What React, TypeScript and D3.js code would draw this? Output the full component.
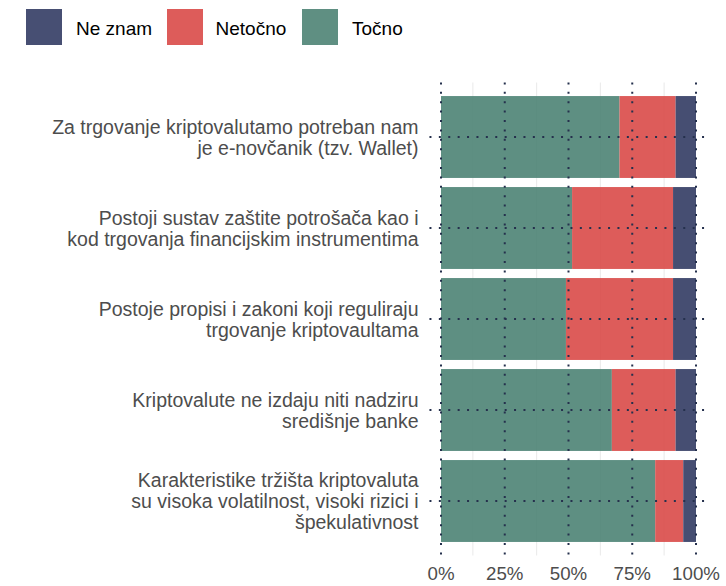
import React from "react";
import * as d3 from "d3";

const categories: string[][] = [
  ["Za trgovanje kriptovalutamo potreban nam", "je e-novčanik (tzv. Wallet)"],
  ["Postoji sustav zaštite potrošača kao i", "kod trgovanja financijskim instrumentima"],
  ["Postoje propisi i zakoni koji reguliraju", "trgovanje kriptovaultama"],
  ["Kriptovalute ne izdaju niti nadziru", "središnje banke"],
  ["Karakteristike tržišta kriptovaluta", "su visoka volatilnost, visoki rizici i", "špekulativnost"],
];
const tocno = [70, 51.4, 49, 67, 84];
const netocno = [22, 39.6, 42, 25, 11];
const neZnam = [8, 9, 9, 8, 5];
const seriesNames = ["Točno", "Netočno", "Ne znam"];
const legendOrder = ["Ne znam", "Netočno", "Točno"];
const xTicks = [0, 25, 50, 75, 100];
const minorTicks = [12.5, 37.5, 62.5, 87.5];

const colors: Record<string, string> = {
  "Točno": "#4d8374",
  "Netočno": "#d94a48",
  "Ne znam": "#323b63",
};
const legendColors: Record<string, string> = {
  "Ne znam": "#474f73",
  "Netočno": "#dd5c5a",
  "Točno": "#5f8f82",
};

const W = 726;
const H = 586;
const FONT = "'Liberation Sans', Arial, sans-serif";

export default function App() {
  const x = d3.scaleLinear().domain([0, 100]).range([441, 696]);
  const panelX: [number, number] = [428.25, 708.75];
  const panelY: [number, number] = [82.4, 555.6];
  const keys = categories.map((_, i) => String(i));
  const y = d3
    .scaleBand<string>()
    .domain(keys)
    .range([91.5, 546.5])
    .paddingInner(0.1)
    .paddingOuter(0.05);

  const rows = keys.map((k, i) => ({
    key: k,
    "Točno": tocno[i],
    "Netočno": netocno[i],
    "Ne znam": neZnam[i],
  }));
  const stack = d3.stack<any>().keys(seriesNames);
  const stacked = stack(rows);

  const dotColor = "#25304d";
  const dash = "2 7.4";
  const lineH = 21;
  const fs = 19;
  const yfs = 19.5;

  return (
    <svg
      width={W}
      height={H}
      style={{ position: "absolute", left: 0, top: 0, background: "#fff" }}
      fontFamily={FONT}
    >
      {/* legend */}
      {legendOrder.map((name, i) => {
        const lx = [26, 167, 302][i];
        const tx = [76, 215.5, 352][i];
        return (
          <g key={name}>
            <rect x={lx} y={9} width={36} height={36} fill={legendColors[name]} />
            <text x={tx} y={34.5} fontSize={fs} fill="#000">
              {name}
            </text>
          </g>
        );
      })}

      {/* minor grid */}
      {minorTicks.map((t) => (
        <line
          key={"m" + t}
          x1={x(t)}
          x2={x(t)}
          y1={panelY[0]}
          y2={panelY[1]}
          stroke="#ebebeb"
          strokeWidth={1.1}
        />
      ))}

      {/* bars */}
      {stacked.map((s) => (
        <g key={s.key} fill={colors[s.key]} fillOpacity={0.9}>
          {s.map((d: any) => (
            <rect
              key={d.data.key}
              x={x(d[0])}
              y={y(d.data.key)}
              width={x(d[1]) - x(d[0])}
              height={y.bandwidth()}
            />
          ))}
        </g>
      ))}

      {/* major dotted grid */}
      {xTicks.map((t) => (
        <line
          key={"v" + t}
          x1={x(t)}
          x2={x(t)}
          y1={panelY[0]}
          y2={panelY[1]}
          stroke={dotColor}
          strokeWidth={2}
          strokeDasharray={dash}
        />
      ))}
      {keys.map((k) => {
        const cy = (y(k) as number) + y.bandwidth() / 2;
        return (
          <line
            key={"h" + k}
            x1={panelX[0] + 1.2}
            x2={panelX[1]}
            y1={cy}
            y2={cy}
            stroke={dotColor}
            strokeWidth={2}
            strokeDasharray={dash}
          />
        );
      })}

      {/* y labels */}
      {categories.map((lines, i) => {
        const cy = (y(keys[i]) as number) + y.bandwidth() / 2;
        const n = lines.length;
        return (
          <text key={"yl" + i} textAnchor="end" fontSize={yfs} fill="#4d4d4d">
            {lines.map((ln, j) => (
              <tspan key={j} x={418.5} y={cy + (j - (n - 1) / 2) * lineH + 7}>
                {ln}
              </tspan>
            ))}
          </text>
        );
      })}

      {/* x tick labels */}
      {xTicks.map((t) => (
        <text
          key={"xt" + t}
          x={x(t)}
          y={579.5}
          textAnchor="middle"
          fontSize={18.7}
          fill="#4d4d4d"
        >
          {t + "%"}
        </text>
      ))}
    </svg>
  );
}
